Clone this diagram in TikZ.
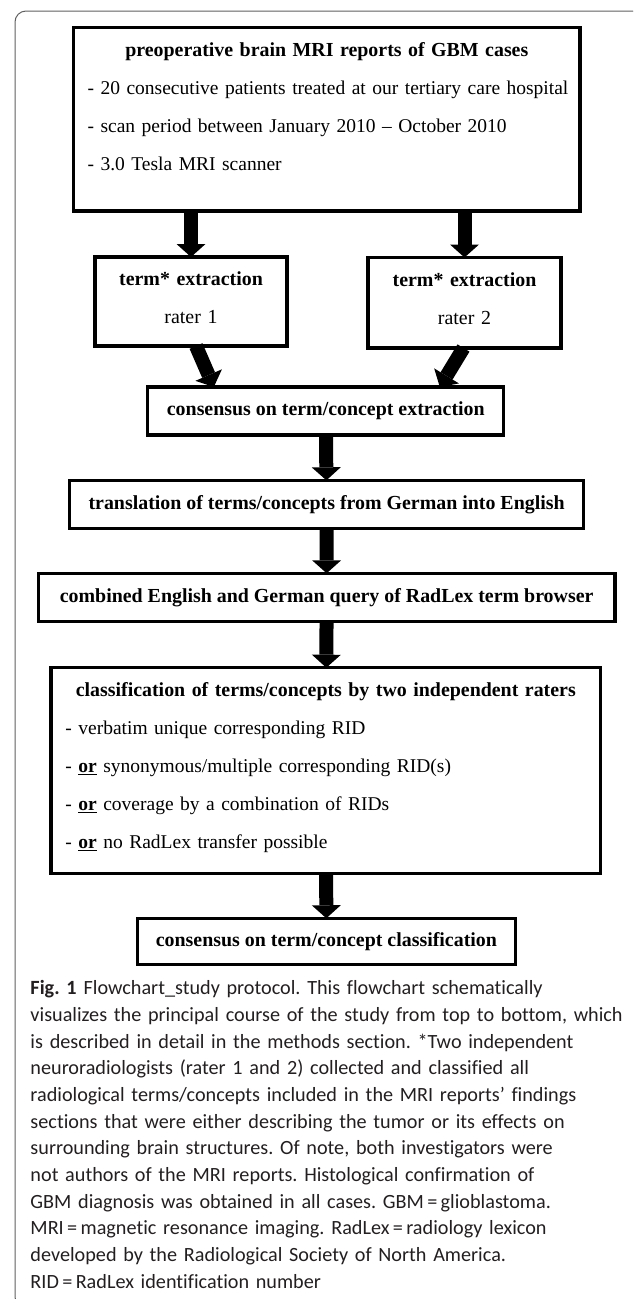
\documentclass[tikz,border=0pt]{standalone}
\usepackage{fontspec}
\setmainfont{Liberation Serif}
\newfontfamily\capfont[Ligatures=NoCommon]{Carlito}
\usetikzlibrary{arrows.meta}
\definecolor{framegray}{RGB}{95,95,95}
\definecolor{captext}{RGB}{35,31,32}
\frenchspacing
\hyphenpenalty=10000
\tikzset{
  flowbox/.style={draw, line width=3.2pt, inner sep=0pt, outer sep=0pt,
    font=\fontsize{19.9}{38}\selectfont},
  headbox/.style={flowbox, font=\fontsize{19.9}{38}\selectfont\bfseries},
  listbox/.style={flowbox, anchor=north, align=left, font=\fontsize{19.5}{38}\selectfont},
  bigarrow/.style={line width=14pt, -{Triangle[width=29pt,length=13pt,line width=0pt]}},
}
\newcommand{\boxhead}[1]{{\centering\fontsize{19.9}{38}\selectfont\bfseries #1\par}}
\begin{document}
\begin{tikzpicture}[x=1pt,y=1pt,yscale=-1,xscale=1]
  \useasboundingbox (0,0) rectangle (633,1299);
  \clip (0,0) rectangle (633,1299);

  % outer frame
  \draw[framegray, line width=1pt, rounded corners=11pt] (15,11) rectangle (643,1308);

  % boxes
  \node[listbox, text width=478.5pt, inner xsep=14pt,
        text height=28.9pt, text depth=154.4pt] (reports) at (326.8,27.7)
    {\boxhead{preoperative brain MRI reports of GBM cases}
     \mbox{- 20 consecutive patients treated at our tertiary care hospital}\\
     \mbox{- scan period between January 2010 -- October 2010}\\
     \mbox{- 3.0 Tesla MRI scanner}};
  \node[flowbox, anchor=north, text width=180pt, minimum width=192pt, align=center,
        text height=28.5pt, text depth=60.5pt] (rater1) at (191,257)
    {\textbf{term* extraction}\\ rater 1};
  \node[flowbox, anchor=north, text width=180pt, minimum width=193pt, align=center,
        text height=29pt, text depth=61.5pt] (rater2) at (464.5,257.5)
    {\textbf{term* extraction}\\ rater 2};
  \node[headbox, minimum width=356pt, minimum height=48pt] (consext) at (325.8,411)
    {consensus on term/concept extraction};
  \node[headbox, minimum width=513.6pt, minimum height=48pt] (transl) at (326.6,504.3)
    {translation of terms/concepts from German into English};
  \node[headbox, minimum width=576.5pt, minimum height=48.4pt] (query) at (326.65,597.5)
    {combined English and German query of RadLex term browser};
  \node[listbox, text width=520.8pt, inner xsep=14.5pt,
        text height=28.9pt, text depth=176.7pt] (classif) at (325.8,667.7)
    {\boxhead{classification of terms/concepts by two independent raters}
     \mbox{- verbatim unique corresponding RID}\\
     \mbox{- \underline{\textbf{or}} synonymous/multiple corresponding RID(s)}\\
     \mbox{- \underline{\textbf{or}} coverage by a combination of RIDs}\\
     \mbox{- \underline{\textbf{or}} no RadLex transfer possible}};
  \node[headbox, minimum width=378.2pt, minimum height=46.5pt] (consclass) at (326.4,941.5)
    {consensus on term/concept classification};

  % arrows
  \draw[bigarrow] (reports.south -| rater1.north) -- (rater1.north);
  \draw[bigarrow] (reports.south -| rater2.north) -- (rater2.north);
  \draw[bigarrow] ([xshift=5pt]rater1.south) -- ([xshift=-112pt]consext.north);
  \draw[bigarrow] ([xshift=-1pt]rater2.south) -- ([xshift=114pt]consext.north);
  \draw[bigarrow] (consext) -- (transl);
  \draw[bigarrow] (transl) -- (query);
  \draw[bigarrow] (query) -- (classif);
  \draw[bigarrow] (classif) -- (consclass);

  % caption
  \node[anchor=base west, text width=595pt, align=left, inner sep=0pt, text=captext,
        font=\capfont\fontsize{20.2}{26.67}\selectfont] (caption) at (30.3,994.7)
    {\mbox{\textbf{Fig. 1}\hspace{7pt}Flowchart\_study protocol. This flowchart schematically}\\
     \mbox{visualizes the principal course of the study from top to bottom, which}\\
     \mbox{is described in detail in the methods section. *Two independent}\\
     \mbox{neuroradiologists (rater 1 and 2) collected and classified all}\\
     \mbox{radiological terms/concepts included in the MRI reports’ findings}\\
     \mbox{sections that were either describing the tumor or its effects on}\\
     \mbox{surrounding brain structures. Of note, both investigators were}\\
     \mbox{not authors of the MRI reports. Histological confirmation of}\\
     \mbox{GBM diagnosis was obtained in all cases. GBM\thinspace=\thinspace glioblastoma.}\\
     \mbox{MRI\thinspace=\thinspace magnetic resonance imaging. RadLex\thinspace=\thinspace radiology lexicon}\\
     \mbox{developed by the Radiological Society of North America.}\\
     \mbox{RID\thinspace=\thinspace RadLex identification number}};
\end{tikzpicture}
\end{document}
